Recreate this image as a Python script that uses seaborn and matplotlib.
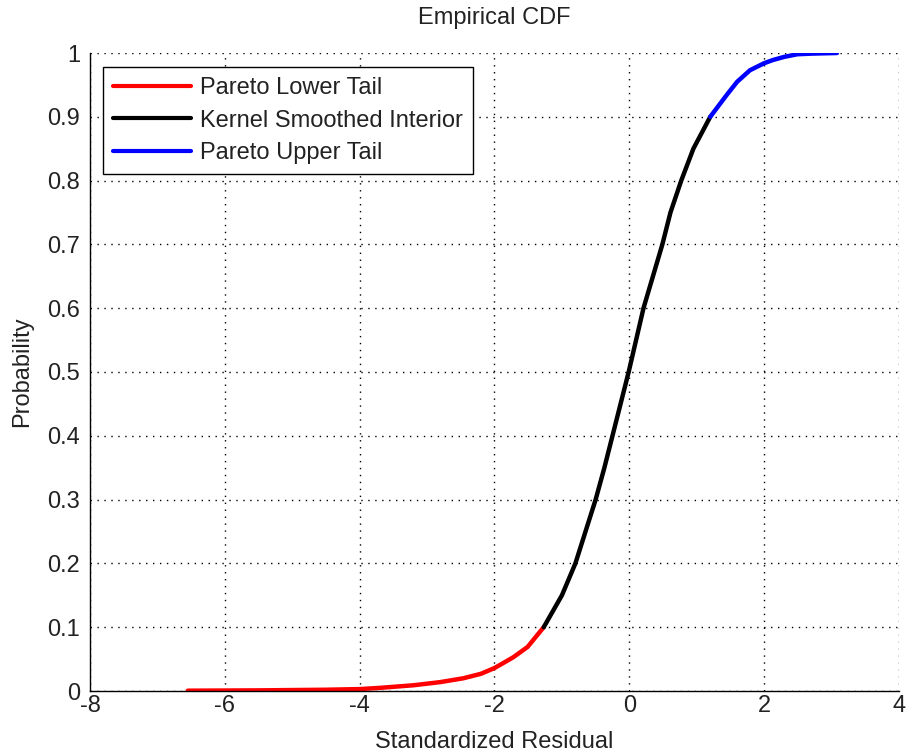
import matplotlib
matplotlib.use("Agg")
import matplotlib.pyplot as plt
from matplotlib.lines import Line2D
import pandas as pd
import seaborn as sns

# Piecewise CDF of the standardized residuals
lower_x = [-6.55, -5.5, -4.5, -4.0, -3.69, -3.2, -2.8, -2.46, -2.2, -2.0, -1.85, -1.72, -1.51, -1.27]
lower_y = [0.0005, 0.001, 0.002, 0.003, 0.005, 0.009, 0.014, 0.020, 0.027, 0.036, 0.045, 0.053, 0.069, 0.10]

interior_x = [-1.27, -1.0, -0.80, -0.65, -0.50, -0.37, -0.25, -0.13, -0.01, 0.10,
              0.21, 0.35, 0.49, 0.61, 0.77, 0.95, 1.20]
interior_y = [0.10, 0.15, 0.20, 0.25, 0.30, 0.35, 0.40, 0.45, 0.50, 0.55,
              0.60, 0.65, 0.70, 0.75, 0.80, 0.85, 0.90]

upper_x = [1.20, 1.45, 1.60, 1.79, 2.0, 2.13, 2.3, 2.49, 2.7, 3.08]
upper_y = [0.90, 0.935, 0.955, 0.973, 0.984, 0.989, 0.994, 0.998, 0.999, 1.0]

segment_names = ["Pareto Lower Tail", "Kernel Smoothed Interior", "Pareto Upper Tail"]
segment_colors = ["#ff0000", "#000000", "#0000ff"]

x_ticks = [-8, -6, -4, -2, 0, 2, 4]
y_ticks = [0, 0.1, 0.2, 0.3, 0.4, 0.5, 0.6, 0.7, 0.8, 0.9, 1]
y_tick_labels = ["0", "0.1", "0.2", "0.3", "0.4", "0.5", "0.6", "0.7", "0.8", "0.9", "1"]

frames = []
for name, xs, ys in zip(segment_names,
                        [lower_x, interior_x, upper_x],
                        [lower_y, interior_y, upper_y]):
    frames.append(pd.DataFrame({"x": xs, "y": ys, "segment": name}))
df = pd.concat(frames, ignore_index=True)

sns.set_style("white")
plt.rcParams["font.family"] = ["Liberation Sans", "DejaVu Sans"]
plt.rcParams["xtick.direction"] = "in"
plt.rcParams["ytick.direction"] = "in"

FS = 17
TEXT = "#222222"

fig = plt.figure(figsize=(9.06, 7.56), dpi=100)
ax = fig.add_axes([90 / 906, 65 / 756, 809 / 906, 638 / 756])

sns.lineplot(data=df, x="x", y="y", hue="segment", hue_order=segment_names,
             palette=dict(zip(segment_names, segment_colors)),
             sort=False, estimator=None, linewidth=3.2, legend=False, ax=ax)

ax.set_xlim(-8, 4)
ax.set_ylim(0, 1)
ax.set_xticks(x_ticks)
ax.set_xticklabels([str(t) for t in x_ticks])
ax.set_yticks(y_ticks)
ax.set_yticklabels(y_tick_labels)

ax.grid(True, color="black", linestyle=(0, (1, 4)), linewidth=1.0)
ax.set_axisbelow(True)
for side in ("top", "right"):
    ax.spines[side].set_visible(False)
for side in ("left", "bottom"):
    ax.spines[side].set_color("black")
    ax.spines[side].set_linewidth(1.0)
ax.tick_params(axis="both", which="both", direction="in", length=5, width=1,
               color="black", labelsize=FS, labelcolor=TEXT)
ax.tick_params(axis="x", pad=3)
ax.tick_params(axis="y", pad=7)

ax.set_title("Empirical CDF", fontsize=FS, color=TEXT, pad=21)
ax.set_xlabel("Standardized Residual", fontsize=FS, color=TEXT, labelpad=10)
ax.set_ylabel("Probability", fontsize=FS, color=TEXT, labelpad=10)

handles = [Line2D([], [], color=c, linewidth=3) for c in segment_colors]
leg = ax.legend(handles, segment_names, loc="upper left",
                bbox_to_anchor=(103 / 906, 1 - 67 / 756),
                bbox_transform=fig.transFigure, borderaxespad=0,
                fontsize=FS, handlelength=3.3, handletextpad=0.4,
                labelspacing=0.45, borderpad=0.42,
                fancybox=False, framealpha=1, edgecolor="black")
leg.get_frame().set_linewidth(1.0)
for t in leg.get_texts():
    t.set_color(TEXT)

fig.savefig("out.png", dpi=100, facecolor="white")
